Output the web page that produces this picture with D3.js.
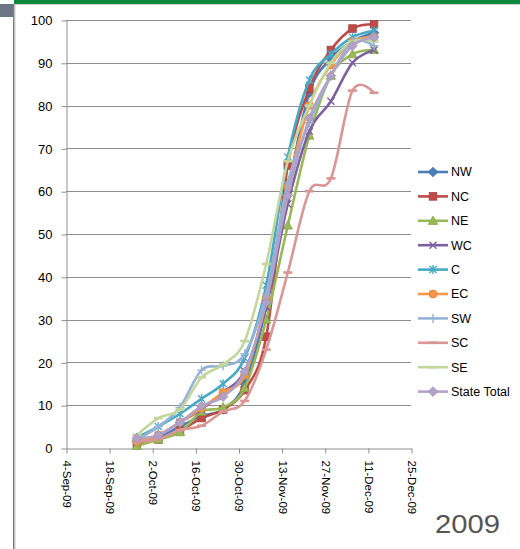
<!DOCTYPE html>
<html>
<head>
<meta charset="utf-8">
<script src="https://cdn.jsdelivr.net/npm/d3@7"></script>
<style>
  html, body { margin: 0; padding: 0; background: #fff; }
  svg { display: block; }
</style>
</head>
<body>
<svg id="chart" width="520" height="549"></svg>
<script>
// Weekly survey dates (2009)
const weeks = ["2009-09-27", "2009-10-04", "2009-10-11", "2009-10-18", "2009-10-25", "2009-11-01",
               "2009-11-08", "2009-11-15", "2009-11-22", "2009-11-29", "2009-12-06", "2009-12-13"];

// Cumulative percent by district
const NW    = [1.5, 2.5, 5.0, 7.5, 9.0, 15.0, 33, 60, 83, 91, 95, 97];
const NC    = [1.0, 2.0, 4.0, 7.0, 9.0, 13.5, 26, 66, 84, 93, 98, 99];
const NE    = [0.5, 2.0, 3.7, 8.5, 9.5, 14.0, 30, 52, 73, 87, 92, 93];
const WC    = [1.5, 3.0, 6.0, 9.0, 13.0, 18.0, 33, 57, 74, 81, 90, 93];
const C     = [2.5, 5.0, 8.0, 11.5, 15.0, 21.0, 38, 68, 86, 92, 96, 97.5];
const EC    = [1.5, 3.0, 6.0, 9.3, 13.0, 17.0, 35, 61, 80, 89.5, 95, 96];
const SW    = [2.0, 5.0, 9.5, 18.2, 19.2, 22.0, 36, 62, 76, 87, 95, 94];
const SC    = [1.5, 2.1, 4.2, 5.2, 8.5, 11.0, 23, 41, 60, 63, 83.5, 83];
const SE    = [3.0, 7.0, 9.0, 16.5, 19.5, 25.0, 43, 67, 80, 90, 95, 95];
const STATE = [2.3, 3.0, 6.0, 9.8, 12.0, 17.8, 34, 59, 77, 87, 94, 96];

const seriesNames = ["NW", "NC", "NE", "WC", "C", "EC", "SW", "SC", "SE", "State Total"];
const seriesValues = [NW, NC, NE, WC, C, EC, SW, SC, SE, STATE];
const seriesColors = ["#4a7ebb", "#be4b48", "#98b954", "#7d60a0", "#46aac5",
                      "#f79646", "#95b3d7", "#d99694", "#c3d69b", "#b3a2c7"];
const seriesMarkers = ["diamond", "square", "triangle", "x", "star", "circle", "plus", "dash", "dash", "diamond"];

const yTicks = [0, 10, 20, 30, 40, 50, 60, 70, 80, 90, 100];
const xTickDates = ["2009-09-04", "2009-09-18", "2009-10-02", "2009-10-16", "2009-10-30",
                    "2009-11-13", "2009-11-27", "2009-12-11", "2009-12-25"];
const yearLabel = "2009";

const parse = d3.timeParse("%Y-%m-%d");
const fmt = d3.timeFormat("%-d-%b-%y");

const svg = d3.select("#chart");

// Frame decoration
svg.append("rect").attr("x", 14).attr("y", 0).attr("width", 506).attr("height", 4).attr("fill", "#0f8a3d");
svg.append("rect").attr("x", 14).attr("y", 4).attr("width", 506).attr("height", 1).attr("fill", "#d0d0d0");
svg.append("rect").attr("x", 0).attr("y", 4).attr("width", 13).attr("height", 13).attr("fill", "#6e7584");
svg.append("rect").attr("x", 13).attr("y", 4).attr("width", 1.5).attr("height", 545).attr("fill", "#7a7a7a");
svg.append("rect").attr("x", 14.5).attr("y", 4).attr("width", 1).attr("height", 545).attr("fill", "#c8c8c8");

const x = d3.scaleTime()
  .domain([parse(xTickDates[0]), parse(xTickDates[xTickDates.length - 1])])
  .range([66, 411]);
const y = d3.scaleLinear().domain([0, 100]).range([448, 20]);

// Horizontal gridlines
svg.append("g")
  .selectAll("line")
  .data(yTicks.filter(v => v > 0))
  .join("line")
  .attr("x1", 66).attr("x2", 411)
  .attr("y1", d => Math.round(y(d)) + 0.5).attr("y2", d => Math.round(y(d)) + 0.5)
  .attr("stroke", "#8e8e8e").attr("stroke-width", 1);

// Y axis
const yAxis = svg.append("g")
  .attr("transform", "translate(66.5,0.5)")
  .call(d3.axisLeft(y).tickValues(yTicks).tickSize(5).tickSizeOuter(0).tickPadding(9));
yAxis.select(".domain").attr("stroke", "#8e8e8e");
yAxis.selectAll(".tick line").attr("stroke", "#8e8e8e");
yAxis.selectAll(".tick text")
  .attr("font-family", "'Liberation Sans', Arial, sans-serif")
  .attr("font-size", 13).attr("fill", "#000");

// X axis with vertical date labels
const xAxis = svg.append("g")
  .attr("transform", "translate(0.5,448.5)")
  .call(d3.axisBottom(x).tickValues(xTickDates.map(parse)).tickFormat(fmt).tickSize(5).tickSizeOuter(0));
xAxis.select(".domain").attr("stroke", "#8e8e8e");
xAxis.selectAll(".tick line").attr("stroke", "#8e8e8e");
xAxis.selectAll(".tick text")
  .attr("font-family", "'Liberation Sans', Arial, sans-serif")
  .attr("font-size", 11.5).attr("fill", "#000")
  .attr("transform", "rotate(90)")
  .attr("text-anchor", "start")
  .attr("x", 12).attr("y", 0).attr("dy", "0.35em");

// Marker drawing
function drawMarker(g, type, cx, cy, color) {
  const dark = d3.color(color).darker(0.35).formatHex();
  const m = g.append("g").attr("transform", `translate(${cx},${cy})`);
  switch (type) {
    case "diamond":
      m.append("path").attr("d", "M0,-4.8L4.8,0L0,4.8L-4.8,0Z").attr("fill", color).attr("stroke", dark).attr("stroke-width", 0.8);
      break;
    case "square":
      m.append("rect").attr("x", -3.8).attr("y", -3.8).attr("width", 7.6).attr("height", 7.6).attr("fill", color).attr("stroke", dark).attr("stroke-width", 0.8);
      break;
    case "triangle":
      m.append("path").attr("d", "M0,-4.8L4.6,3.6L-4.6,3.6Z").attr("fill", color).attr("stroke", dark).attr("stroke-width", 0.8);
      break;
    case "x":
      m.append("path").attr("d", "M-3.5,-3.5L3.5,3.5M-3.5,3.5L3.5,-3.5").attr("stroke", color).attr("stroke-width", 1.4).attr("fill", "none");
      break;
    case "star":
      m.append("path").attr("d", "M-3.5,-3.5L3.5,3.5M-3.5,3.5L3.5,-3.5M0,-4.5L0,4.5").attr("stroke", color).attr("stroke-width", 1.4).attr("fill", "none");
      break;
    case "circle":
      m.append("circle").attr("r", 4).attr("fill", color).attr("stroke", dark).attr("stroke-width", 0.8);
      break;
    case "plus":
      m.append("path").attr("d", "M0,-4.5L0,4.5M-4.5,0L4.5,0").attr("stroke", color).attr("stroke-width", 1.4).attr("fill", "none");
      break;
    case "dash":
      m.append("path").attr("d", "M-4.5,0L4.5,0").attr("stroke", color).attr("stroke-width", 2.6).attr("fill", "none");
      break;
  }
}

const dates = weeks.map(parse);
const line = d3.line()
  .x((d, i) => x(dates[i]))
  .y(d => y(d))
  .curve(d3.curveCatmullRom.alpha(0));

const plot = svg.append("g");
seriesValues.forEach((vals, s) => {
  const g = plot.append("g");
  g.append("path")
    .datum(vals)
    .attr("d", line)
    .attr("fill", "none")
    .attr("stroke", seriesColors[s])
    .attr("stroke-width", 2.6)
    .attr("stroke-linejoin", "round")
    .attr("stroke-linecap", "round");
  vals.forEach((v, i) => drawMarker(g, seriesMarkers[s], x(dates[i]), y(v), seriesColors[s]));
});

// Legend
const legend = svg.append("g");
seriesNames.forEach((name, s) => {
  const ly = 172 + s * 24.4;
  legend.append("line")
    .attr("x1", 418).attr("x2", 448).attr("y1", ly).attr("y2", ly)
    .attr("stroke", seriesColors[s]).attr("stroke-width", 2.6);
  drawMarker(legend, seriesMarkers[s], 433, ly, seriesColors[s]);
  legend.append("text")
    .attr("x", 451).attr("y", ly).attr("dy", "0.35em")
    .attr("font-family", "'Liberation Sans', Arial, sans-serif")
    .attr("font-size", 12.5).attr("fill", "#000")
    .text(name);
});

// Year caption
svg.append("text")
  .attr("x", 435).attr("y", 533)
  .attr("font-family", "'Liberation Sans', Arial, sans-serif")
  .attr("font-size", 25).attr("fill", "#555")
  .attr("textLength", 65).attr("lengthAdjust", "spacingAndGlyphs")
  .text(yearLabel);
</script>
</body>
</html>
